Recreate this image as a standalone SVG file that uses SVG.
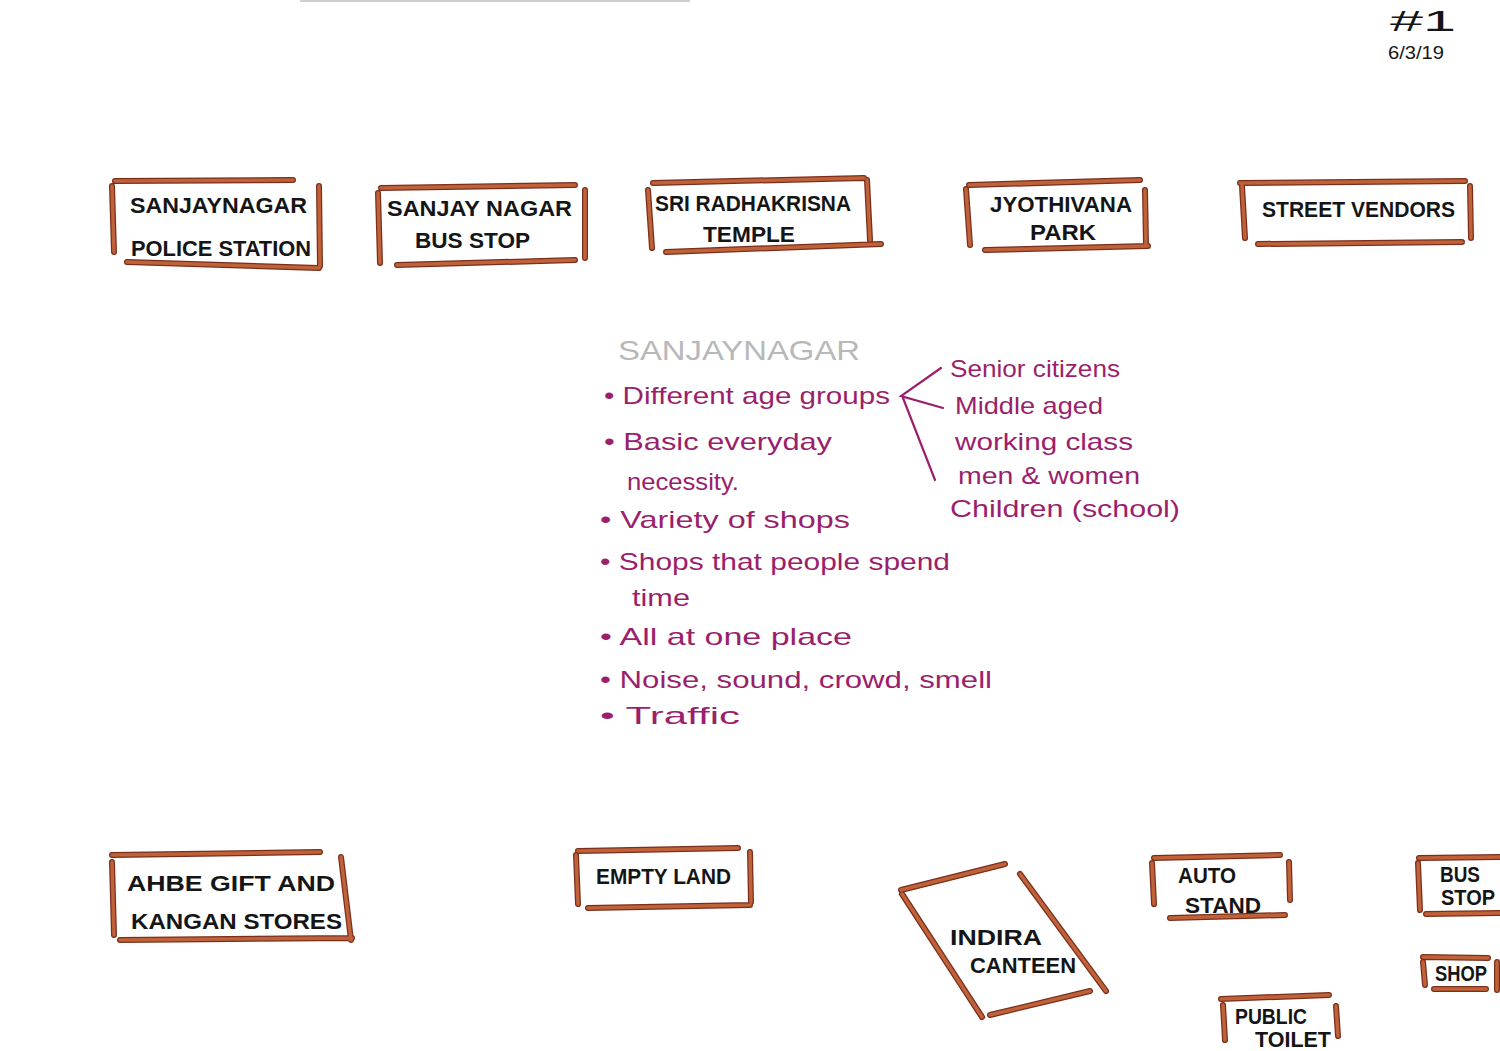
<svg xmlns="http://www.w3.org/2000/svg" width="1500" height="1051" viewBox="0 0 1500 1051">
<style>
.fr{fill:none;stroke:#7a2f1c;stroke-width:6;stroke-linecap:round}
.fi{fill:none;stroke:#bf6139;stroke-width:3.5;stroke-linecap:round}
.lb{font-family:"Liberation Sans",Arial,sans-serif;font-size:22px;font-weight:bold;fill:#151515}
.nt{font-family:"Liberation Sans",Arial,sans-serif;font-size:24px;fill:#9b1f6c}
.br{fill:none;stroke:#9b1f6c;stroke-width:2.2;stroke-linecap:round}
</style>
<rect width="1500" height="1051" fill="#ffffff"/>
<line x1="300" y1="1" x2="690" y2="1" stroke="#cfcfcf" stroke-width="2"/>
<g id="header">
<text x="1390" y="31" font-family="Liberation Sans,Arial,sans-serif" font-size="30" fill="#151515" textLength="66" lengthAdjust="spacingAndGlyphs">#1</text>
<text x="1388" y="59" font-family="Liberation Sans,Arial,sans-serif" font-size="18" fill="#151515" textLength="56" lengthAdjust="spacingAndGlyphs">6/3/19</text>
</g>
<g id="police-station">
<path class="fr" d="M115 181L293 180M112 186L114 252M319 186L320 266M127 262L319 268"/>
<path class="fi" d="M115 181L293 180M112 186L114 252M319 186L320 266M127 262L319 268"/>
<text class="lb" x="130" y="213" textLength="177" lengthAdjust="spacingAndGlyphs">SANJAYNAGAR</text>
<text class="lb" x="131" y="256" textLength="180" lengthAdjust="spacingAndGlyphs">POLICE STATION</text>
</g>
<g id="bus-stop-1">
<path class="fr" d="M381 188L575 185M378 193L380 263M585 190L585 258M397 265L575 260"/>
<path class="fi" d="M381 188L575 185M378 193L380 263M585 190L585 258M397 265L575 260"/>
<text class="lb" x="387" y="216" textLength="185" lengthAdjust="spacingAndGlyphs">SANJAY NAGAR</text>
<text class="lb" x="415" y="248" textLength="115" lengthAdjust="spacingAndGlyphs">BUS STOP</text>
</g>
<g id="temple">
<path class="fr" d="M653 183L864 178M648 190L652 248M867 180L870 240M666 252L881 244"/>
<path class="fi" d="M653 183L864 178M648 190L652 248M867 180L870 240M666 252L881 244"/>
<text class="lb" x="655" y="211" textLength="196" lengthAdjust="spacingAndGlyphs">SRI RADHAKRISNA</text>
<text class="lb" x="703" y="242" textLength="92" lengthAdjust="spacingAndGlyphs">TEMPLE</text>
</g>
<g id="park">
<path class="fr" d="M969 185L1140 180M966 189L970 245M1145 190L1146 245M985 250L1148 246"/>
<path class="fi" d="M969 185L1140 180M966 189L970 245M1145 190L1146 245M985 250L1148 246"/>
<text class="lb" x="990" y="212" textLength="142" lengthAdjust="spacingAndGlyphs">JYOTHIVANA</text>
<text class="lb" x="1030" y="240" textLength="66" lengthAdjust="spacingAndGlyphs">PARK</text>
</g>
<g id="street-vendors">
<path class="fr" d="M1240 183L1465 181M1242 186L1245 238M1470 186L1471 238M1258 244L1462 242"/>
<path class="fi" d="M1240 183L1465 181M1242 186L1245 238M1470 186L1471 238M1258 244L1462 242"/>
<text class="lb" x="1262" y="217" textLength="193" lengthAdjust="spacingAndGlyphs">STREET VENDORS</text>
</g>
<g id="notes">
<text x="618" y="360" font-family="Liberation Sans,Arial,sans-serif" font-size="28" fill="#b8b8b8" textLength="242" lengthAdjust="spacingAndGlyphs">SANJAYNAGAR</text>
<text class="nt" x="604" y="404" textLength="286" lengthAdjust="spacingAndGlyphs">• Different age groups</text>
<text class="nt" x="604" y="450" textLength="228" lengthAdjust="spacingAndGlyphs">• Basic everyday</text>
<text class="nt" x="627" y="490" textLength="112" lengthAdjust="spacingAndGlyphs">necessity.</text>
<text class="nt" x="600" y="528" textLength="250" lengthAdjust="spacingAndGlyphs">• Variety of shops</text>
<text class="nt" x="600" y="570" textLength="350" lengthAdjust="spacingAndGlyphs">• Shops that people spend</text>
<text class="nt" x="632" y="606" textLength="58" lengthAdjust="spacingAndGlyphs">time</text>
<text class="nt" x="600" y="645" textLength="252" lengthAdjust="spacingAndGlyphs">• All at one place</text>
<text class="nt" x="600" y="688" textLength="392" lengthAdjust="spacingAndGlyphs">• Noise, sound, crowd, smell</text>
<text class="nt" x="600" y="724" textLength="140" lengthAdjust="spacingAndGlyphs">• Traffic</text>
</g>
<g id="connectors">
<path class="br" d="M941 368L901 396L943 408M903 398L935 480"/>
</g>
<g id="age-groups">
<text class="nt" x="950" y="377" textLength="170" lengthAdjust="spacingAndGlyphs">Senior citizens</text>
<text class="nt" x="955" y="414" textLength="148" lengthAdjust="spacingAndGlyphs">Middle aged</text>
<text class="nt" x="955" y="450" textLength="178" lengthAdjust="spacingAndGlyphs">working class</text>
<text class="nt" x="958" y="484" textLength="182" lengthAdjust="spacingAndGlyphs">men &amp; women</text>
<text class="nt" x="950" y="517" textLength="230" lengthAdjust="spacingAndGlyphs">Children (school)</text>
</g>
<g id="gift-stores">
<path class="fr" d="M112 855L320 852M112 862L114 935M341 857L351 940M120 940L352 938"/>
<path class="fi" d="M112 855L320 852M112 862L114 935M341 857L351 940M120 940L352 938"/>
<text class="lb" x="127" y="891" textLength="208" lengthAdjust="spacingAndGlyphs">AHBE GIFT AND</text>
<text class="lb" x="131" y="929" textLength="211" lengthAdjust="spacingAndGlyphs">KANGAN STORES</text>
</g>
<g id="empty-land">
<path class="fr" d="M578 851L738 848M576 855L578 904M750 852L751 902M588 908L750 905"/>
<path class="fi" d="M578 851L738 848M576 855L578 904M750 852L751 902M588 908L750 905"/>
<text class="lb" x="596" y="884" textLength="135" lengthAdjust="spacingAndGlyphs">EMPTY LAND</text>
</g>
<g id="indira-canteen">
<path class="fr" d="M901 890L1005 864M902 894L982 1017M1020 874L1106 991M990 1015L1090 991"/>
<path class="fi" d="M901 890L1005 864M902 894L982 1017M1020 874L1106 991M990 1015L1090 991"/>
<text class="lb" x="950" y="945" textLength="92" lengthAdjust="spacingAndGlyphs">INDIRA</text>
<text class="lb" x="970" y="973" textLength="106" lengthAdjust="spacingAndGlyphs">CANTEEN</text>
</g>
<g id="auto-stand">
<path class="fr" d="M1154 858L1280 855M1152 863L1154 904M1289 862L1290 900M1170 918L1285 915"/>
<path class="fi" d="M1154 858L1280 855M1152 863L1154 904M1289 862L1290 900M1170 918L1285 915"/>
<text class="lb" x="1178" y="883" textLength="58" lengthAdjust="spacingAndGlyphs">AUTO</text>
<text class="lb" x="1185" y="913" textLength="76" lengthAdjust="spacingAndGlyphs">STAND</text>
</g>
<g id="bus-stop-2">
<path class="fr" d="M1419 858L1500 857M1418 863L1420 910M1426 914L1500 913"/>
<path class="fi" d="M1419 858L1500 857M1418 863L1420 910M1426 914L1500 913"/>
<text class="lb" x="1440" y="882" textLength="40" lengthAdjust="spacingAndGlyphs">BUS</text>
<text class="lb" x="1441" y="905" textLength="54" lengthAdjust="spacingAndGlyphs">STOP</text>
</g>
<g id="shop">
<path class="fr" d="M1423 957L1488 958M1423 962L1425 985M1497 962L1497 990M1434 989L1486 989"/>
<path class="fi" d="M1423 957L1488 958M1423 962L1425 985M1497 962L1497 990M1434 989L1486 989"/>
<text class="lb" x="1435" y="981" textLength="52" lengthAdjust="spacingAndGlyphs">SHOP</text>
</g>
<g id="public-toilet">
<path class="fr" d="M1221 999L1329 995M1223 1005L1225 1040M1336 1006L1338 1036"/>
<path class="fi" d="M1221 999L1329 995M1223 1005L1225 1040M1336 1006L1338 1036"/>
<text class="lb" x="1235" y="1024" font-size="19" textLength="72" lengthAdjust="spacingAndGlyphs">PUBLIC</text>
<text class="lb" x="1255" y="1047" font-size="19" textLength="76" lengthAdjust="spacingAndGlyphs">TOILET</text>
</g>
</svg>
